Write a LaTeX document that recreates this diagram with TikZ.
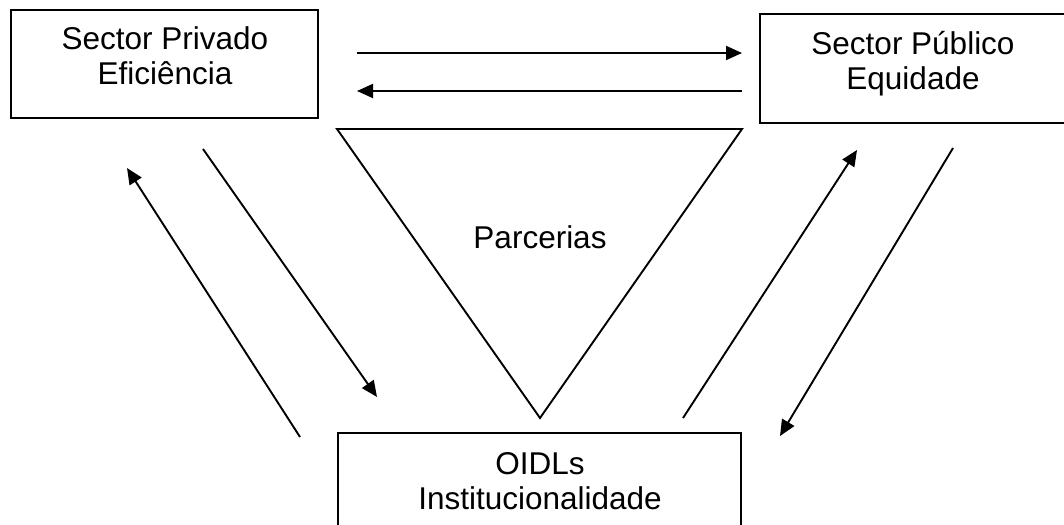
\documentclass[tikz,border=0pt]{standalone}
\usepackage{fontspec}
\setmainfont{Liberation Sans}
\usetikzlibrary{arrows.meta}
\begin{document}
\begin{tikzpicture}[x=1pt,y=-1pt,
  boxline/.style={draw=black,line width=2pt},
  lbl/.style={font=\fontsize{31.5}{35}\selectfont,align=center,inner sep=0pt},
  conn/.style={line width=1.9pt,-{Triangle[length=16pt,width=14pt]}}]
\useasboundingbox (0,0) rectangle (1064,524);
\clip (0,0) rectangle (1064,524);
% boxes
\draw[boxline] (11,10) rectangle (318,118);
\node[lbl] (priv) at (165,56) {Sector Privado\\Eficiência};
\draw[boxline] (760,14) rectangle (1080,123);
\node[lbl] (pub) at (913,64) {Sector Público\\Equidade};
\draw[boxline] (338,433) rectangle (741,540);
\node[lbl] (oidl) at (540,481) {OIDLs\\Institucionalidade};
% triangle
\coordinate (tl) at (337,129);
\coordinate (tr) at (742,129);
\coordinate (tb) at (540,418);
\draw[line width=1.9pt,line join=miter] (tl) -- (tr) -- (tb) -- cycle;
\node[lbl] (parc) at (540,237) {Parcerias};
% horizontal arrows
\coordinate (h1a) at (357,53); \coordinate (h1b) at (742,53);
\coordinate (h2a) at (742,91); \coordinate (h2b) at (357,91);
\draw[conn] (h1a) -- (h1b);
\draw[conn] (h2a) -- (h2b);
% left diagonals
\coordinate (l1a) at (203,149); \coordinate (l1b) at (377,397);
\coordinate (l2a) at (300,437); \coordinate (l2b) at (127,168);
\draw[conn] (l1a) -- (l1b);
\draw[conn] (l2a) -- (l2b);
% right diagonals
\coordinate (r1a) at (683,418); \coordinate (r1b) at (857,150);
\coordinate (r2a) at (953,148); \coordinate (r2b) at (780,436);
\draw[conn] (r1a) -- (r1b);
\draw[conn] (r2a) -- (r2b);
\end{tikzpicture}
\end{document}
